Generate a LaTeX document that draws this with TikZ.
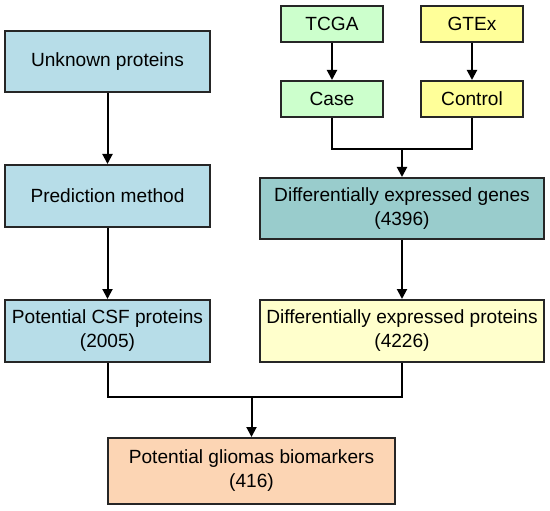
\documentclass[tikz,border=0pt]{standalone}
\usepackage{fontspec}
\setmainfont{Liberation Sans}
\usetikzlibrary{arrows.meta}
\definecolor{cblue}{HTML}{B7DDE8}
\definecolor{cgreen}{HTML}{CCFFCC}
\definecolor{cyel}{HTML}{FFFF99}
\definecolor{cteal}{HTML}{99CCCC}
\definecolor{clyel}{HTML}{FFFFCC}
\definecolor{cpeach}{HTML}{FCD5B4}
\begin{document}
\begin{tikzpicture}[x=1pt,y=-1pt,
  box/.style={draw=black!85, line width=2pt, inner sep=0pt, rectangle,
    font=\fontsize{19.1}{24}\selectfont, align=center},
  arr/.style={line width=2pt, -{Triangle[width=10pt,length=10pt]}},
  ln/.style={line width=2pt, line join=miter}]
\useasboundingbox (0,0) rectangle (550,511);
\node[box, fill=cblue, minimum width=205pt, minimum height=61pt] (unk) at (107.5,61.5) {Unknown proteins};
\node[box, fill=cblue, minimum width=205pt, minimum height=62pt] (pred) at (107.5,196) {Prediction method};
\node[box, fill=cblue, minimum width=205pt, minimum height=62pt] (csf) at (107.5,331) {Potential CSF proteins\\(2005)};
\node[box, fill=cgreen, minimum width=102pt, minimum height=36pt] (tcga) at (332,24) {TCGA};
\node[box, fill=cyel, minimum width=102pt, minimum height=36pt] (gtex) at (472,24) {GTEx};
\node[box, fill=cgreen, minimum width=102pt, minimum height=36pt] (case) at (332,99) {Case};
\node[box, fill=cyel, minimum width=102pt, minimum height=36pt] (ctrl) at (472,99) {Control};
\node[box, fill=cteal, minimum width=284pt, minimum height=61pt] (deg) at (402,208.5) {Differentially expressed genes\\(4396)};
\node[box, fill=clyel, minimum width=284pt, minimum height=62pt] (dep) at (402,331) {Differentially expressed proteins\\(4226)};
\node[box, fill=cpeach, minimum width=287pt, minimum height=66pt] (bio) at (251.5,471) {Potential gliomas biomarkers\\(416)};
\coordinate (j1) at (402,149);
\coordinate (j2) at (251.5,397);
\draw[arr] (unk) -- (pred);
\draw[arr] (pred) -- (csf);
\draw[arr] (tcga) -- (case);
\draw[arr] (gtex) -- (ctrl);
\draw[ln] (case.south) |- (j1) -| (ctrl.south);
\draw[arr] (j1) -- (deg.north);
\draw[arr] (deg) -- (dep);
\draw[ln] (csf.south) |- (j2) -| (dep.south);
\draw[arr] (j2) -- (bio.north);
\end{tikzpicture}
\end{document}
